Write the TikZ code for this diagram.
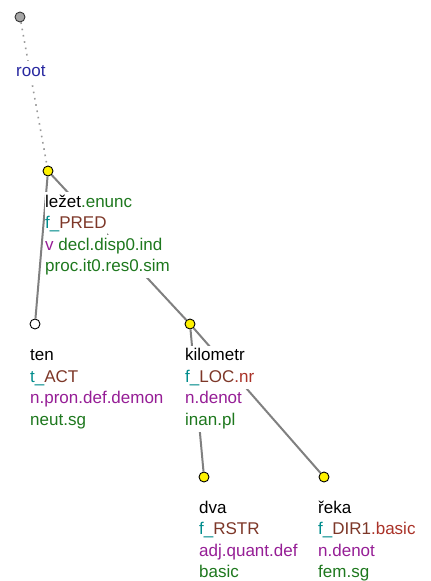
\documentclass[tikz,border=0pt]{standalone}
\usepackage{fontspec}
\setmainfont{Liberation Sans}
\usepackage{tikz}
\usepackage{xcolor}

\definecolor{rootcol}{RGB}{40,40,160}
\definecolor{fcol}{RGB}{0,140,140}
\definecolor{funcol}{RGB}{125,55,40}
\definecolor{subcol}{RGB}{170,50,40}
\definecolor{semcol}{RGB}{150,30,150}
\definecolor{gramcol}{RGB}{30,120,30}
\definecolor{edgecol}{RGB}{128,128,128}

\setlength{\fboxsep}{0pt}
\newcommand{\trline}[1]{\colorbox{white}{\rule[-6.5pt]{0pt}{21.5pt}#1}}

\begin{document}
\begin{tikzpicture}[x=1pt,y=-1pt]
\tikzset{every node/.style={font=\fontsize{17}{21.5}\selectfont}}
\tikzset{tnode/.style={circle,draw=black,line width=0.9pt,inner sep=0pt,minimum size=10pt}}
\tikzset{yellownode/.style={tnode,fill=yellow}}
\tikzset{emptynode/.style={tnode,fill=white}}
\tikzset{rootnode/.style={tnode,fill=gray!70,draw=black!80}}
\tikzset{nodetext/.style={anchor=north west,inner sep=0pt,align=left}}
\tikzset{edge/.style={draw=edgecol,line width=2pt}}
\tikzset{rootedge/.style={draw=gray!80,line width=1.6pt,dash pattern=on 1.6pt off 4.8pt}}

\useasboundingbox (0,0) rectangle (431,581);

\node[rootnode] (root) at (20,17) {};
\node[yellownode] (lezet) at (48,171) {};
\node[emptynode] (ten) at (35,324) {};
\node[yellownode] (kilometr) at (190,324) {};
\node[yellownode] (dva) at (204,477) {};
\node[yellownode] (reka) at (324,477) {};

\draw[rootedge] (root) -- (lezet);
\draw[edge] (lezet) -- (ten);
\draw[edge] (lezet) -- (kilometr);
\draw[edge] (kilometr) -- (dva);
\draw[edge] (kilometr) -- (reka);

\node[nodetext] (roottext) at (16,61) {\trline{\textcolor{rootcol}{root}}};
\node[nodetext] (lezettext) at (45,192) {\trline{ležet\textcolor{gramcol}{.enunc}}\\
  \trline{\textcolor{fcol}{f\_}\textcolor{funcol}{PRED}}\\
  \trline{\textcolor{semcol}{v} \textcolor{gramcol}{decl.disp0.ind}}\\
  \trline{\textcolor{gramcol}{proc.it0.res0.sim}}};
\node[nodetext] (tentext) at (30,345.5) {\trline{ten}\\
  \trline{\textcolor{fcol}{t\_}\textcolor{funcol}{ACT}}\\
  \trline{\textcolor{semcol}{n.pron.def.demon}}\\
  \trline{\textcolor{gramcol}{neut.sg}}};
\node[nodetext] (kilometrtext) at (185,345.5) {\trline{kilometr}\\
  \trline{\textcolor{fcol}{f\_}\textcolor{funcol}{LOC}\textcolor{subcol}{.nr}}\\
  \trline{\textcolor{semcol}{n.denot}}\\
  \trline{\textcolor{gramcol}{inan.pl}}};
\node[nodetext] (dvatext) at (199,498) {\trline{dva}\\
  \trline{\textcolor{fcol}{f\_}\textcolor{funcol}{RSTR}}\\
  \trline{\textcolor{semcol}{adj.quant.def}}\\
  \trline{\textcolor{gramcol}{basic}}};
\node[nodetext] (rekatext) at (318,498) {\trline{řeka}\\
  \trline{\textcolor{fcol}{f\_}\textcolor{funcol}{DIR1}\textcolor{subcol}{.basic}}\\
  \trline{\textcolor{semcol}{n.denot}}\\
  \trline{\textcolor{gramcol}{fem.sg}}};

\end{tikzpicture}
\end{document}
